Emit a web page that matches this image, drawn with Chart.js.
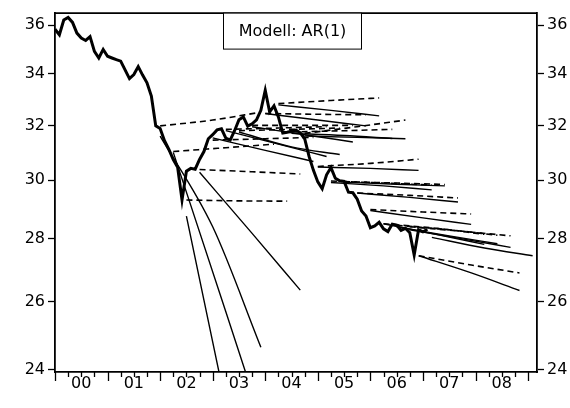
<!DOCTYPE html>
<html><head><meta charset="utf-8">
<script src="https://cdn.jsdelivr.net/npm/chart.js@4.4.0/dist/chart.umd.min.js"></script>
<style>html,body{margin:0;padding:0;background:#fff}#wrap{width:570px;height:408px}</style>
</head><body><div id="wrap"><canvas id="c" width="570" height="408"></canvas></div>
<script>
// Actual monthly series, 2000M01 .. 2007M02
const firstYear = 2000;
const actual = [35.83,35.60,36.22,36.33,36.12,35.67,35.46,35.36,35.52,34.91,34.64,34.99,
 34.71,34.64,34.57,34.51,34.16,33.81,33.97,34.29,33.95,33.64,33.12,31.98,
 31.88,31.43,31.11,30.74,30.46,29.31,30.32,30.42,30.39,30.74,31.03,31.50,
 31.65,31.83,31.87,31.52,31.45,31.80,32.21,32.32,31.97,32.06,32.21,32.57,
 33.35,32.51,32.74,32.32,31.71,31.74,31.78,31.82,31.72,31.50,30.85,30.35,
 29.94,29.70,30.19,30.45,30.07,29.98,29.96,29.58,29.56,29.34,28.93,28.76,
 28.37,28.43,28.55,28.33,28.24,28.49,28.46,28.28,28.35,28.20,27.47,28.30,
 28.23,28.32];

// Recursive forecasts: start date, value at start, one year later, end (23 months later)
const fcStart = [2002.0,2002.0,2002.25,2002.25,2002.5,2002.5,2002.75,2002.75,2003.0,2003.0,
 2003.25,2003.25,2003.5,2003.5,2003.75,2003.75,2004.0,2004.0,2004.25,2004.25,
 2004.5,2004.5,2004.75,2004.75,2005.0,2005.0,2005.25,2005.25,2005.5,2005.5,
 2005.75,2005.75,2006.0,2006.0,2006.25,2006.25,2006.5,2006.5,2006.75,2006.75,
 2006.92,2006.92,2007.17];
const fcFirst = [31.6,31.98,31.0,31.03,28.76,29.31,30.28,30.38,31.53,31.45,
 31.8,31.85,31.75,31.8,31.95,32.0,32.45,32.45,32.78,32.83,
 31.7,31.75,31.6,31.7,30.47,30.49,29.92,29.97,29.93,29.95,
 29.55,29.55,28.95,28.98,28.5,28.5,28.4,28.45,28.3,28.4,
 27.45,27.45,28.05];
const fcMid = [28.4,32.2,25.7,31.17,21.4,29.28,28.18,30.3,31.07,31.5,
 31.3,31.9,31.2,31.85,31.65,32.0,32.2,32.42,32.57,32.95,
 31.62,31.8,31.55,31.95,30.42,30.6,29.8,29.9,29.86,29.9,
 29.4,29.47,28.7,28.9,28.15,28.35,28.1,28.3,28.0,28.25,
 26.9,27.15,27.7];
const fcLast = [24.65,32.5,21.6,31.3,16.5,29.27,26.36,30.22,30.67,31.55,
 30.85,31.95,30.92,31.9,31.38,32.0,31.98,32.4,32.36,33.05,
 31.51,31.85,31.5,32.2,30.35,30.75,29.66,29.83,29.8,29.85,
 29.24,29.38,28.48,28.83,27.82,28.15,27.84,28.12,27.72,28.1,
 26.35,26.9,27.45];
const fcModel = ['A','B','A','B','A','B','A','B','A','B',
 'A','B','A','B','A','B','A','B','A','B',
 'A','B','A','B','A','B','A','B','A','B',
 'A','B','A','B','A','B','A','B','A','B',
 'A','B','A'];

const yTicks = [24,26,28,30,32,34,36];
const xLabels = ['00','01','02','03','04','05','06','07','08'];
const boxLabel = 'Modell: AR(1)';

const FONT = 'DejaVu Sans';

const datasets = [{
  data: actual.map((v,i)=>({x: firstYear + i/12, y: v})),
  borderColor:'#000', borderWidth:3, pointRadius:0, tension:0, order:0,
  borderJoinStyle:'miter'
}];
fcStart.forEach((s,k)=>{
  const dashed = fcModel[k]==='B';
  datasets.push({
    data:[{x:s,y:fcFirst[k]},{x:s+1,y:fcMid[k]},{x:s+23/12,y:fcLast[k]}],
    borderColor:'#000', borderWidth: dashed ? 1.6 : 1.4, pointRadius:0,
    cubicInterpolationMode:'monotone',
    borderDash: dashed ? [6,4] : [],
    order:1
  });
});

const deco = {
  id:'deco',
  afterDraw(chart){
    const ctx = chart.ctx, a = chart.chartArea, xs = chart.scales.x;
    ctx.save();
    ctx.strokeStyle='#000'; ctx.lineWidth=1.3;
    xs.ticks.forEach(t=>{
      const px = Math.round(xs.getPixelForValue(t.value))+0.5;
      const major = Math.abs(t.value-Math.round(t.value))<1e-6;
      ctx.beginPath(); ctx.moveTo(px,a.bottom); ctx.lineTo(px,a.bottom+(major?9:5)); ctx.stroke();
    });
    ctx.lineWidth=1.8;
    ctx.beginPath(); ctx.moveTo(a.left,a.top+0.5); ctx.lineTo(a.right,a.top+0.5); ctx.stroke();
    // label box
    ctx.font = '16px "'+FONT+'"';
    const w = 138, h = 36, cx = (a.left+a.right)/2 - 4.5;
    const bx = Math.round(cx - w/2)+0.5, by = a.top+0.5;
    ctx.fillStyle='#fff'; ctx.fillRect(bx,by,w,h);
    ctx.lineWidth=1; ctx.strokeRect(bx,by,w,h);
    ctx.fillStyle='#000'; ctx.textAlign='center'; ctx.textBaseline='middle';
    ctx.fillText(boxLabel, bx+w/2, by+h/2+1);
    ctx.restore();
  }
};

function yScale(pos){
  return {
    type:'logarithmic', position:pos, min:23.94, max:36.54,
    afterBuildTicks: s => { s.ticks = yTicks.map(v=>({value:v})); },
    afterFit: s => { s.width = pos==='left' ? 55 : 33; },
    ticks:{ callback: v => String(v), font:{family:FONT,size:16}, color:'#000', padding:3, autoSkip:false },
    grid:{ display:true, drawOnChartArea:false, drawTicks:true, tickLength:7, tickColor:'#000', tickWidth:1.3 },
    border:{ display:true, color:'#000', width:1.8 }
  };
}

new Chart(document.getElementById('c'), {
  type:'line',
  data:{ datasets },
  options:{
    responsive:false, animation:false, devicePixelRatio:1, events:[],
    layout:{ padding:{ top:10, left:0, right:0, bottom:0 } },
    plugins:{ legend:{display:false}, tooltip:{enabled:false} },
    scales:{
      x:{
        type:'linear', position:'bottom', min:2000, max:2009.17,
        afterBuildTicks: s => { const t=[]; for(let q=0;q<=36;q++) t.push({value:2000+q/4}); s.ticks=t; },
        afterFit: s => { s.height = 36; },
        ticks:{ autoSkip:false, maxRotation:0, minRotation:0, padding:2, color:'#000',
          font:{family:FONT,size:16},
          callback: v => { const f = v - Math.floor(v); return Math.abs(f-0.5)<1e-6 ? (xLabels[Math.floor(v)-2000]||'') : ''; } },
        grid:{ display:false, drawTicks:false },
        border:{ display:true, color:'#000', width:1.8 }
      },
      y: yScale('left'),
      y2: yScale('right')
    }
  },
  plugins:[deco]
});
</script></body></html>
